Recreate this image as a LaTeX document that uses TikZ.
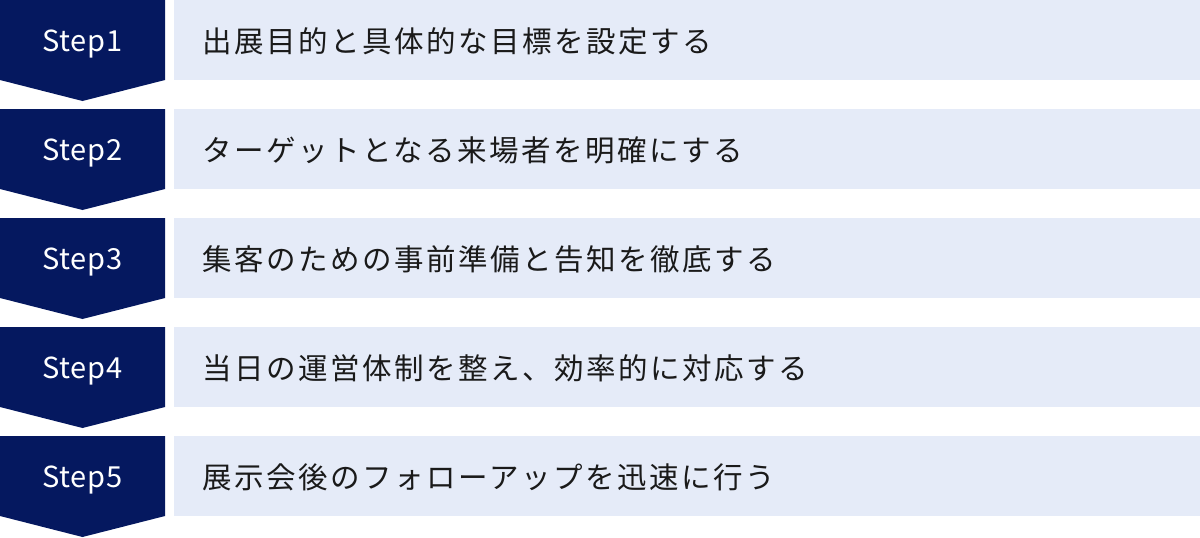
\documentclass[tikz,border=0pt]{standalone}
\usepackage{fontspec}
\setmainfont{Noto Sans CJK JP}
\newfontfamily\stepfont[LetterSpace=3]{Noto Sans CJK JP}
\newfontfamily\descfont[LetterSpace=8.5]{Noto Sans CJK JP}
\definecolor{navy}{HTML}{05185F}
\definecolor{pale}{HTML}{E5EBF8}
\definecolor{ink}{HTML}{1A1A1A}
\tikzset{
  stepshape/.style={fill=navy},
  bar/.style={fill=pale},
  steplabel/.style={text=white, font=\stepfont\fontsize{29}{29}\selectfont, anchor=center, inner sep=0pt, text height=21pt, text depth=0pt},
  desc/.style={text=ink, font=\descfont\fontsize{29.5}{30}\selectfont, anchor=west, inner sep=0pt, text height=22pt, text depth=0pt}
}
\begin{document}
\begin{tikzpicture}[x=1pt,y=-1pt]
\useasboundingbox (0,0) rectangle (1200,538);
\foreach \i/\t in {0/出展目的と具体的な目標を設定する,1/ターゲットとなる来場者を明確にする,2/集客のための事前準備と告知を徹底する,3/当日の運営体制を整え、効率的に対応する,4/展示会後のフォローアップを迅速に行う}{
  \pgfmathsetmacro{\top}{109*\i}
  \fill[stepshape] (0,\top) -- (165,\top) -- (165,\top+80) -- (82.5,\top+101) -- (0,\top+80) -- cycle;
  \fill[bar] (174,\top) rectangle (1200,\top+80);
  \pgfmathtruncatemacro{\n}{\i+1}
  \node[steplabel] (step\n) at (82.5,\top+41) {Step\n};
  \node[desc] (desc\n) at (202,\top+41) {\t};
}
\end{tikzpicture}
\end{document}
